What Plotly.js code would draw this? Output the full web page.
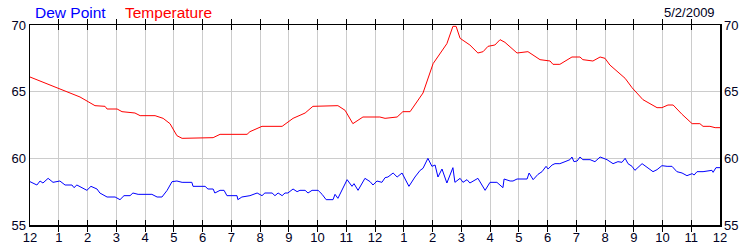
<!DOCTYPE html>
<html>
<head>
<meta charset="utf-8">
<script src="https://cdn.plot.ly/plotly-3.0.1.min.js"></script>
<style>html,body{margin:0;padding:0;background:#fff;}#chart{width:750px;height:250px;}</style>
</head>
<body>
<div id="chart"></div>
<script>
// Hours since midnight (0 = 12 AM, 24 = next 12 AM)
var tempHours = [0.00,0.35,0.70,1.04,1.39,1.74,2.02,2.26,2.61,2.68,3.03,3.20,3.65,3.83,4.35,4.63,4.87,5.11,5.29,6.37,6.61,7.55,7.65,8.07,8.77,9.15,9.57,9.84,10.71,10.96,11.23,11.58,12.17,12.35,12.77,12.97,13.22,13.67,14.02,14.50,14.71,14.82,14.96,15.30,15.58,15.76,15.93,16.17,16.35,16.52,16.94,17.32,17.74,18.09,18.19,18.43,18.85,19.13,19.23,19.58,19.83,20.00,20.17,20.42,20.70,20.94,21.32,21.81,21.98,22.19,22.37,22.68,23.03,23.30,23.41,23.65,23.83,24.00];
var tempValues = [66.1,65.8,65.5,65.15,64.9,64.6,64.25,63.95,63.9,63.7,63.7,63.5,63.4,63.2,63.2,63.0,62.6,61.7,61.5,61.55,61.8,61.8,62.0,62.4,62.4,63.0,63.4,63.9,63.95,63.6,62.6,63.1,63.1,63.0,63.1,63.5,63.5,64.9,67.1,68.6,69.9,69.9,69.0,68.5,67.9,68.0,68.4,68.5,68.9,68.7,67.9,68.0,67.4,67.3,67.05,67.05,67.6,67.6,67.4,67.3,67.6,67.5,67.0,66.5,66.0,65.3,64.4,63.8,63.8,64.0,64.0,63.3,62.6,62.6,62.4,62.4,62.3,62.3];

var dewHours = [0.00,0.24,0.35,0.45,0.63,0.80,1.04,1.22,1.46,1.53,1.63,1.81,1.98,2.12,2.33,2.43,2.68,2.96,3.13,3.27,3.48,3.58,3.76,4.24,4.42,4.59,4.77,4.94,5.11,5.29,5.63,5.67,6.09,6.19,6.37,6.43,6.61,6.75,6.85,7.20,7.23,7.37,7.65,7.90,8.07,8.17,8.42,8.52,8.63,8.77,8.87,8.97,9.15,9.29,9.39,9.57,9.67,9.81,9.91,10.02,10.16,10.30,10.54,10.61,10.71,11.03,11.20,11.27,11.41,11.65,11.83,11.93,12.07,12.24,12.35,12.45,12.63,12.77,12.94,13.18,13.39,13.57,13.67,13.84,13.98,14.09,14.19,14.33,14.50,14.71,14.78,14.96,15.06,15.20,15.30,15.41,15.58,15.83,16.00,16.24,16.35,16.45,16.49,16.70,16.80,16.94,17.29,17.36,17.50,17.67,17.81,17.95,18.02,18.16,18.26,18.43,18.61,18.78,18.85,18.92,19.03,19.13,19.23,19.48,19.65,19.83,20.07,20.28,20.45,20.59,20.70,20.80,20.94,21.04,21.29,21.46,21.67,21.81,21.98,22.16,22.33,22.50,22.68,22.85,23.03,23.10,23.20,23.41,23.72,23.76,23.86,24.00];
var dewValues = [58.25,58.0,58.3,58.15,58.5,58.2,58.3,58.0,58.0,57.8,58.0,57.8,57.6,57.9,57.7,57.4,57.1,57.1,56.9,57.2,57.2,57.4,57.3,57.3,57.1,57.1,57.6,58.25,58.3,58.2,58.2,57.9,57.9,57.7,57.7,57.4,57.6,57.6,57.2,57.2,56.9,57.1,57.2,57.4,57.2,57.4,57.4,57.2,57.4,57.2,57.4,57.4,57.7,57.5,57.6,57.6,57.4,57.6,57.6,57.6,57.3,56.9,56.9,57.3,57.0,58.4,57.9,58.1,57.6,58.5,58.25,58.0,58.3,58.2,58.55,58.6,58.9,58.6,58.9,57.9,58.6,59.1,59.25,60.0,59.4,59.5,58.6,59.2,58.15,59.3,58.2,58.5,58.2,58.4,58.15,58.3,58.5,57.6,58.2,58.2,58.0,57.8,58.45,58.3,58.3,58.45,58.45,58.9,58.4,58.8,59.0,59.4,59.2,59.5,59.6,59.6,59.75,59.9,60.1,59.75,59.8,60.1,59.9,59.9,59.75,60.1,59.9,59.6,59.75,59.7,60.0,59.6,59.4,59.1,59.6,59.3,59.0,59.15,59.45,59.4,59.4,59.0,58.9,58.7,58.85,58.75,59.0,59.0,59.1,58.95,59.3,59.3];

var hourTicks = [0,1,2,3,4,5,6,7,8,9,10,11,12,13,14,15,16,17,18,19,20,21,22,23,24];
var hourLabels = ['12','1','2','3','4','5','6','7','8','9','10','11','12','1','2','3','4','5','6','7','8','9','10','11','12'];
var yTicks = [55,60,65,70];

var font = 'Arial, "Liberation Sans", sans-serif';

var traces = [
  {x: dewHours, y: dewValues, type: 'scatter', mode: 'lines', name: 'Dew Point',
   line: {color: '#0000ff', width: 1}, hoverinfo: 'skip'},
  {x: tempHours, y: tempValues, type: 'scatter', mode: 'lines', name: 'Temperature',
   yaxis: 'y2', line: {color: '#ff0000', width: 1}, hoverinfo: 'skip'}
];

var yCommon = {
  range: [55, 70], tickvals: yTicks, ticktext: yTicks.map(String),
  showline: true, linecolor: '#000', linewidth: 1.5, ticks: '', zeroline: false,
  tickfont: {family: font, size: 13, color: '#000022'}, fixedrange: true
};

var layout = {
  width: 750, height: 250,
  margin: {l: 30, r: 30, t: 25, b: 25, pad: 0},
  paper_bgcolor: '#fff', plot_bgcolor: '#fff',
  showlegend: false,
  xaxis: {
    range: [0, 24], tickvals: hourTicks, ticktext: hourLabels,
    showgrid: true, gridcolor: '#cccccc', gridwidth: 1,
    showline: true, linecolor: '#000', linewidth: 1.5, mirror: 'allticks',
    ticks: 'inside', ticklen: 5, tickcolor: '#000', tickwidth: 1,
    zeroline: false, tickfont: {family: font, size: 13, color: '#000022'}
  },
  yaxis: Object.assign({}, yCommon, {showgrid: true, gridcolor: '#cccccc', side: 'left'}),
  yaxis2: Object.assign({}, yCommon, {showgrid: false, side: 'right', overlaying: 'y'}),
  annotations: [
    {text: 'Dew Point', xref: 'paper', yref: 'paper', x: 0.0043, y: 1.065, xanchor: 'left', yanchor: 'middle',
     showarrow: false, font: {family: font, size: 15.5, color: '#0000ff'}},
    {text: 'Temperature', xref: 'paper', yref: 'paper', x: 0.1348, y: 1.065, xanchor: 'left', yanchor: 'middle',
     showarrow: false, font: {family: font, size: 15.5, color: '#ff0000'}},
    {text: '5/2/2009', xref: 'paper', yref: 'paper', x: 0.9957, y: 1.065, xanchor: 'right', yanchor: 'middle',
     showarrow: false, font: {family: font, size: 13, color: '#000022'}}
  ]
};

Plotly.newPlot('chart', traces, layout, {staticPlot: true, displayModeBar: false});
</script>
</body>
</html>
